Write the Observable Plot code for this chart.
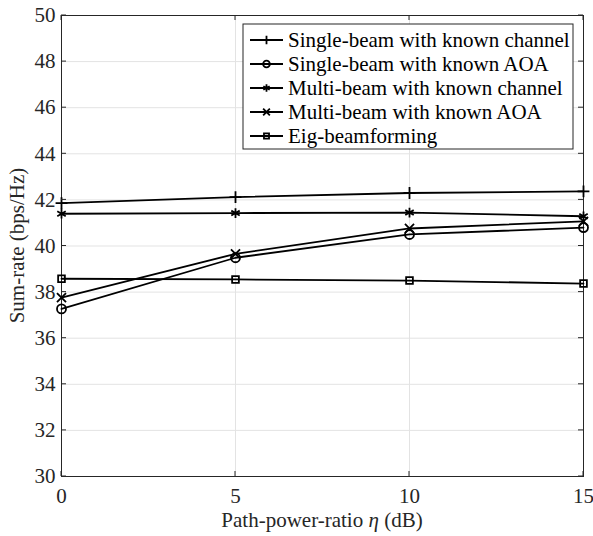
<!DOCTYPE html>
<html><head><meta charset="utf-8">
<script src="https://cdn.jsdelivr.net/npm/d3@7"></script>
<script src="https://cdn.jsdelivr.net/npm/@observablehq/plot@0.6"></script>
<style>
body{margin:0;background:#fff}
svg, svg text{font-family:"Liberation Serif","Times New Roman",serif !important}
</style>
</head><body><div id="chart"></div>
<script>
const eta = [0, 5, 10, 15];
const xTicks = [0, 5, 10, 15];
const yTicks = [30, 32, 34, 36, 38, 40, 42, 44, 46, 48, 50];

const seriesNames = [
  "Single-beam with known channel",
  "Single-beam with known AOA",
  "Multi-beam with known channel",
  "Multi-beam with known AOA",
  "Eig-beamforming"
];
const singleChannel = [41.86, 42.12, 42.30, 42.37];
const singleAOA     = [37.27, 39.49, 40.50, 40.80];
const multiChannel  = [41.40, 41.43, 41.45, 41.29];
const multiAOA      = [37.76, 39.66, 40.76, 41.07];
const eigBF         = [38.58, 38.55, 38.50, 38.37];
const symbols = ["plus", "circle", "asterisk", "times", "square"];

(function () {
const seriesValues = [singleChannel, singleAOA, multiChannel, multiAOA, eigBF];
const data = seriesNames.flatMap((name, k) =>
  eta.map((x, i) => ({x, y: seriesValues[k][i], name})));

const symbolR = {plus: 3.9, circle: 4.5, asterisk: 4.6, times: 4.2, square: 3.8};

const marks = [
  Plot.gridX(xTicks, {stroke: "#e3e3e3", strokeOpacity: 1}),
  Plot.gridY(yTicks, {stroke: "#e3e3e3", strokeOpacity: 1}),
  Plot.axisX(xTicks, {tickSize: 0, tickPadding: 12, fontSize: 21, fill: "#262626", label: null}),
  Plot.axisY(yTicks, {tickSize: 0, tickPadding: 6, fontSize: 21, fill: "#262626", label: null}),
  Plot.frame({stroke: "#262626", strokeWidth: 1})
];
seriesNames.forEach((name) => {
  const d = data.filter(r => r.name === name);
  marks.push(Plot.line(d, {x: "x", y: "y", stroke: "black", strokeWidth: 1.8}));
});
seriesNames.forEach((name, k) => {
  const d = data.filter(r => r.name === name);
  marks.push(Plot.dot(d, {x: "x", y: "y", symbol: () => symbols[k], r: symbolR[symbols[k]],
    stroke: "black", fill: "none", strokeWidth: 1.8}));
});

const plot = Plot.plot({
  width: 593, height: 536,
  marginLeft: 61, marginRight: 10, marginTop: 15, marginBottom: 60,
  style: "background:#fff;font-family:'Liberation Serif',serif;",
  x: {domain: [0, 15], label: null},
  y: {domain: [30, 50], label: null},
  symbol: {type: "identity"},
  marks
});
document.getElementById("chart").appendChild(plot);

const svg = d3.select(plot);
const xs = plot.scale("x"), ys = plot.scale("y");
const pl = xs.range[0], pr = xs.range[1];
const pt = ys.range[1], pb = ys.range[0];
const tk = 5;
const g = svg.append("g").attr("stroke", "#262626").attr("stroke-width", 1);
yTicks.forEach(v => {
  const y = ys.apply(v);
  g.append("line").attr("x1", pl).attr("x2", pl + tk).attr("y1", y).attr("y2", y);
  g.append("line").attr("x1", pr).attr("x2", pr - tk).attr("y1", y).attr("y2", y);
});
xTicks.forEach(v => {
  const x = xs.apply(v);
  g.append("line").attr("x1", x).attr("x2", x).attr("y1", pb).attr("y2", pb - tk);
  g.append("line").attr("x1", x).attr("x2", x).attr("y1", pt).attr("y2", pt + tk);
});

// axis titles
const xl = svg.append("text").attr("x", (pl + pr) / 2).attr("y", 527)
  .attr("text-anchor", "middle").attr("font-size", 21).attr("fill", "#262626");
xl.append("tspan").text("Path-power-ratio ");
xl.append("tspan").attr("font-style", "italic").text("η");
xl.append("tspan").text(" (dB)");
svg.append("text").attr("transform", `translate(24,${(pt + pb) / 2}) rotate(-90)`)
  .attr("text-anchor", "middle").attr("font-size", 21).attr("fill", "#262626")
  .text("Sum-rate (bps/Hz)");

// legend
const lg = svg.append("g");
lg.append("rect").attr("x", 243).attr("y", 24).attr("width", 330).attr("height", 125)
  .attr("fill", "white").attr("stroke", "#262626").attr("stroke-width", 1);
const symMap = {plus: d3.symbolPlus, circle: d3.symbolCircle, asterisk: d3.symbolAsterisk,
  times: d3.symbolTimes, square: d3.symbolSquare};
seriesNames.forEach((name, k) => {
  const cy = 40 + k * 24;
  lg.append("line").attr("x1", 250).attr("x2", 283).attr("y1", cy).attr("y2", cy)
    .attr("stroke", "black").attr("stroke-width", 1.8);
  const r = symbolR[symbols[k]] * 0.75;
  lg.append("path").attr("transform", `translate(266.5,${cy})`)
    .attr("d", d3.symbol(symMap[symbols[k]], Math.PI * r * r)())
    .attr("fill", "none").attr("stroke", "black").attr("stroke-width", 1.8);
  lg.append("text").attr("x", 288).attr("y", cy + 7).attr("font-size", 21)
    .attr("text-anchor", "start").attr("fill", "black").text(name);
});
svg.selectAll("text").attr("font-family", "Liberation Serif");
})();
</script>
</body></html>
